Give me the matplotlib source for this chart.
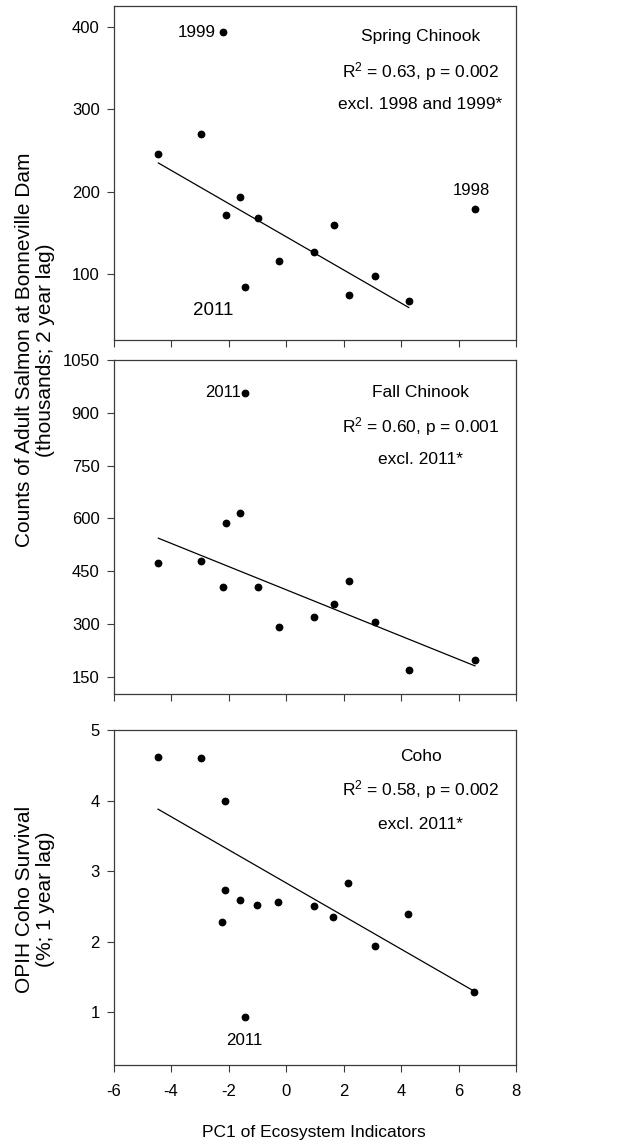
#!/usr/bin/env python3
"""Salmon returns vs PC1 of ecosystem indicators, three stacked panels."""

import matplotlib

matplotlib.use("Agg")
import matplotlib.pyplot as plt
import numpy as np

plt.rcParams["font.family"] = ["Liberation Sans", "DejaVu Sans"]
plt.rcParams["mathtext.fontset"] = "custom"
plt.rcParams["mathtext.rm"] = "Liberation Sans"
plt.rcParams["mathtext.it"] = "Liberation Sans:italic"
plt.rcParams["axes.unicode_minus"] = False

# spring chinook (thousands, 2 year lag)
spring_x = [-4.44, -2.96, -2.20, -2.10, -1.59, -1.42, -0.98, -0.25, 0.97, 1.66, 2.18, 3.11, 4.27, 6.57]
spring_y = [246, 270, 393, 171, 194, 84, 168, 116, 127, 159, 75, 98, 67, 179]
spring_excl = [2, 13]  # 1999, 1998

# fall chinook (thousands, 2 year lag)
fall_x = [-4.44, -2.96, -2.20, -2.10, -1.59, -1.42, -0.98, -0.25, 0.97, 1.66, 2.18, 3.11, 4.27, 6.57]
fall_y = [472, 478, 405, 588, 615, 957, 406, 290, 321, 356, 423, 305, 169, 197]
fall_excl = [5]  # 2011

# OPIH coho survival (%, 1 year lag)
coho_x = [-4.45, -2.97, -2.22, -2.11, -2.11, -1.61, -1.44, -1.01, -0.28, 0.96, 1.63, 2.16, 3.08, 4.25, 6.55]
coho_y = [4.62, 4.61, 2.28, 4.00, 2.73, 2.59, 0.93, 2.52, 2.56, 2.51, 2.35, 2.83, 1.94, 2.39, 1.29]
coho_excl = [6]  # 2011

panel_titles = ["Spring Chinook", "Fall Chinook", "Coho"]
panel_stats = [r"R$^2$ = 0.63, p = 0.002", r"R$^2$ = 0.60, p = 0.001", r"R$^2$ = 0.58, p = 0.002"]
panel_notes = ["excl. 1998 and 1999*", "excl. 2011*", "excl. 2011*"]
panel_yticks = [[100, 200, 300, 400], [150, 300, 450, 600, 750, 900, 1050], [1, 2, 3, 4, 5]]
panel_ylims = [(20, 425), (100, 1050), (0.25, 5)]
x_ticks = [-6, -4, -2, 0, 2, 4, 6, 8]

W, H = 633, 1146
fig = plt.figure(figsize=(W / 100, H / 100), dpi=100)

left, width = 113.5 / W, 402.5 / W
boxes = [(6, 340), (360, 694.3), (730, 1065)]
axes = [fig.add_axes([left, 1 - b / H, width, (b - t) / H]) for t, b in boxes]

spine_col = "#3a3a3a"
datasets = [(spring_x, spring_y, spring_excl), (fall_x, fall_y, fall_excl), (coho_x, coho_y, coho_excl)]
text_rows = [(0.908, 0.805, 0.706), (0.903, 0.800, 0.703), (0.920, 0.821, 0.718)]

for i, ax in enumerate(axes):
    xs, ys, excl = datasets[i]
    xs = np.array(xs)
    ys = np.array(ys)
    keep = np.ones(len(xs), dtype=bool)
    keep[excl] = False

    ax.plot(xs, ys, "o", color="black", markersize=4.6, zorder=3)
    slope, icept = np.polyfit(xs[keep], ys[keep], 1)
    fx = np.array([xs[keep].min(), xs[keep].max()])
    ax.plot(fx, icept + slope * fx, color="black", linewidth=0.9)

    ax.set_xlim(-6, 8)
    ax.set_ylim(*panel_ylims[i])
    ax.set_xticks(x_ticks)
    ax.set_yticks(panel_yticks[i])
    ax.tick_params(direction="out", length=5, width=0.8, color=spine_col, labelsize=12, pad=5)
    ax.tick_params(axis="x", pad=9)
    if i < 2:
        ax.tick_params(axis="x", labelbottom=False)
    for sp in ax.spines.values():
        sp.set_color(spine_col)
        sp.set_linewidth(0.9)

    ty, ry, ny = text_rows[i]
    ax.text(0.763, ty, panel_titles[i], transform=ax.transAxes, ha="center", va="center", fontsize=12.5)
    ax.text(0.763, ry, panel_stats[i], transform=ax.transAxes, ha="center", va="center", fontsize=12.5)
    ax.text(0.763, ny, panel_notes[i], transform=ax.transAxes, ha="center", va="center", fontsize=12.5)

# year labels on the outliers
ax1, ax2, ax3 = axes
ax1.annotate("1999", (spring_x[2], spring_y[2]), xytext=(-5, 0), textcoords="offset points",
             ha="right", va="center", fontsize=12.3)
ax1.annotate("2011", (spring_x[5], spring_y[5]), xytext=(-23, -17), textcoords="offset points",
             ha="center", va="center", fontsize=13.5)
ax1.annotate("1998", (spring_x[13], spring_y[13]), xytext=(-2.4, 13), textcoords="offset points",
             ha="center", va="center", fontsize=12)
ax2.annotate("2011", (fall_x[5], fall_y[5]), xytext=(-3, 0), textcoords="offset points",
             ha="right", va="center", fontsize=12)
ax3.annotate("2011", (coho_x[6], coho_y[6]), xytext=(0, -17), textcoords="offset points",
             ha="center", va="center", fontsize=12.2)

fig.text(35 / W, 1 - 350 / H, "Counts of Adult Salmon at Bonneville Dam\n(thousands; 2 year lag)",
         rotation=90, ha="center", va="center", multialignment="center", fontsize=15, linespacing=1.15)
fig.text(35 / W, 1 - 899 / H, "OPIH Coho Survival\n(%; 1 year lag)",
         rotation=90, ha="center", va="center", multialignment="center", fontsize=15, linespacing=1.15)
fig.text(314 / W, 1 - 1133 / H, "PC1 of Ecosystem Indicators", ha="center", va="center", fontsize=12.5)

fig.savefig("out.png", dpi=100)
